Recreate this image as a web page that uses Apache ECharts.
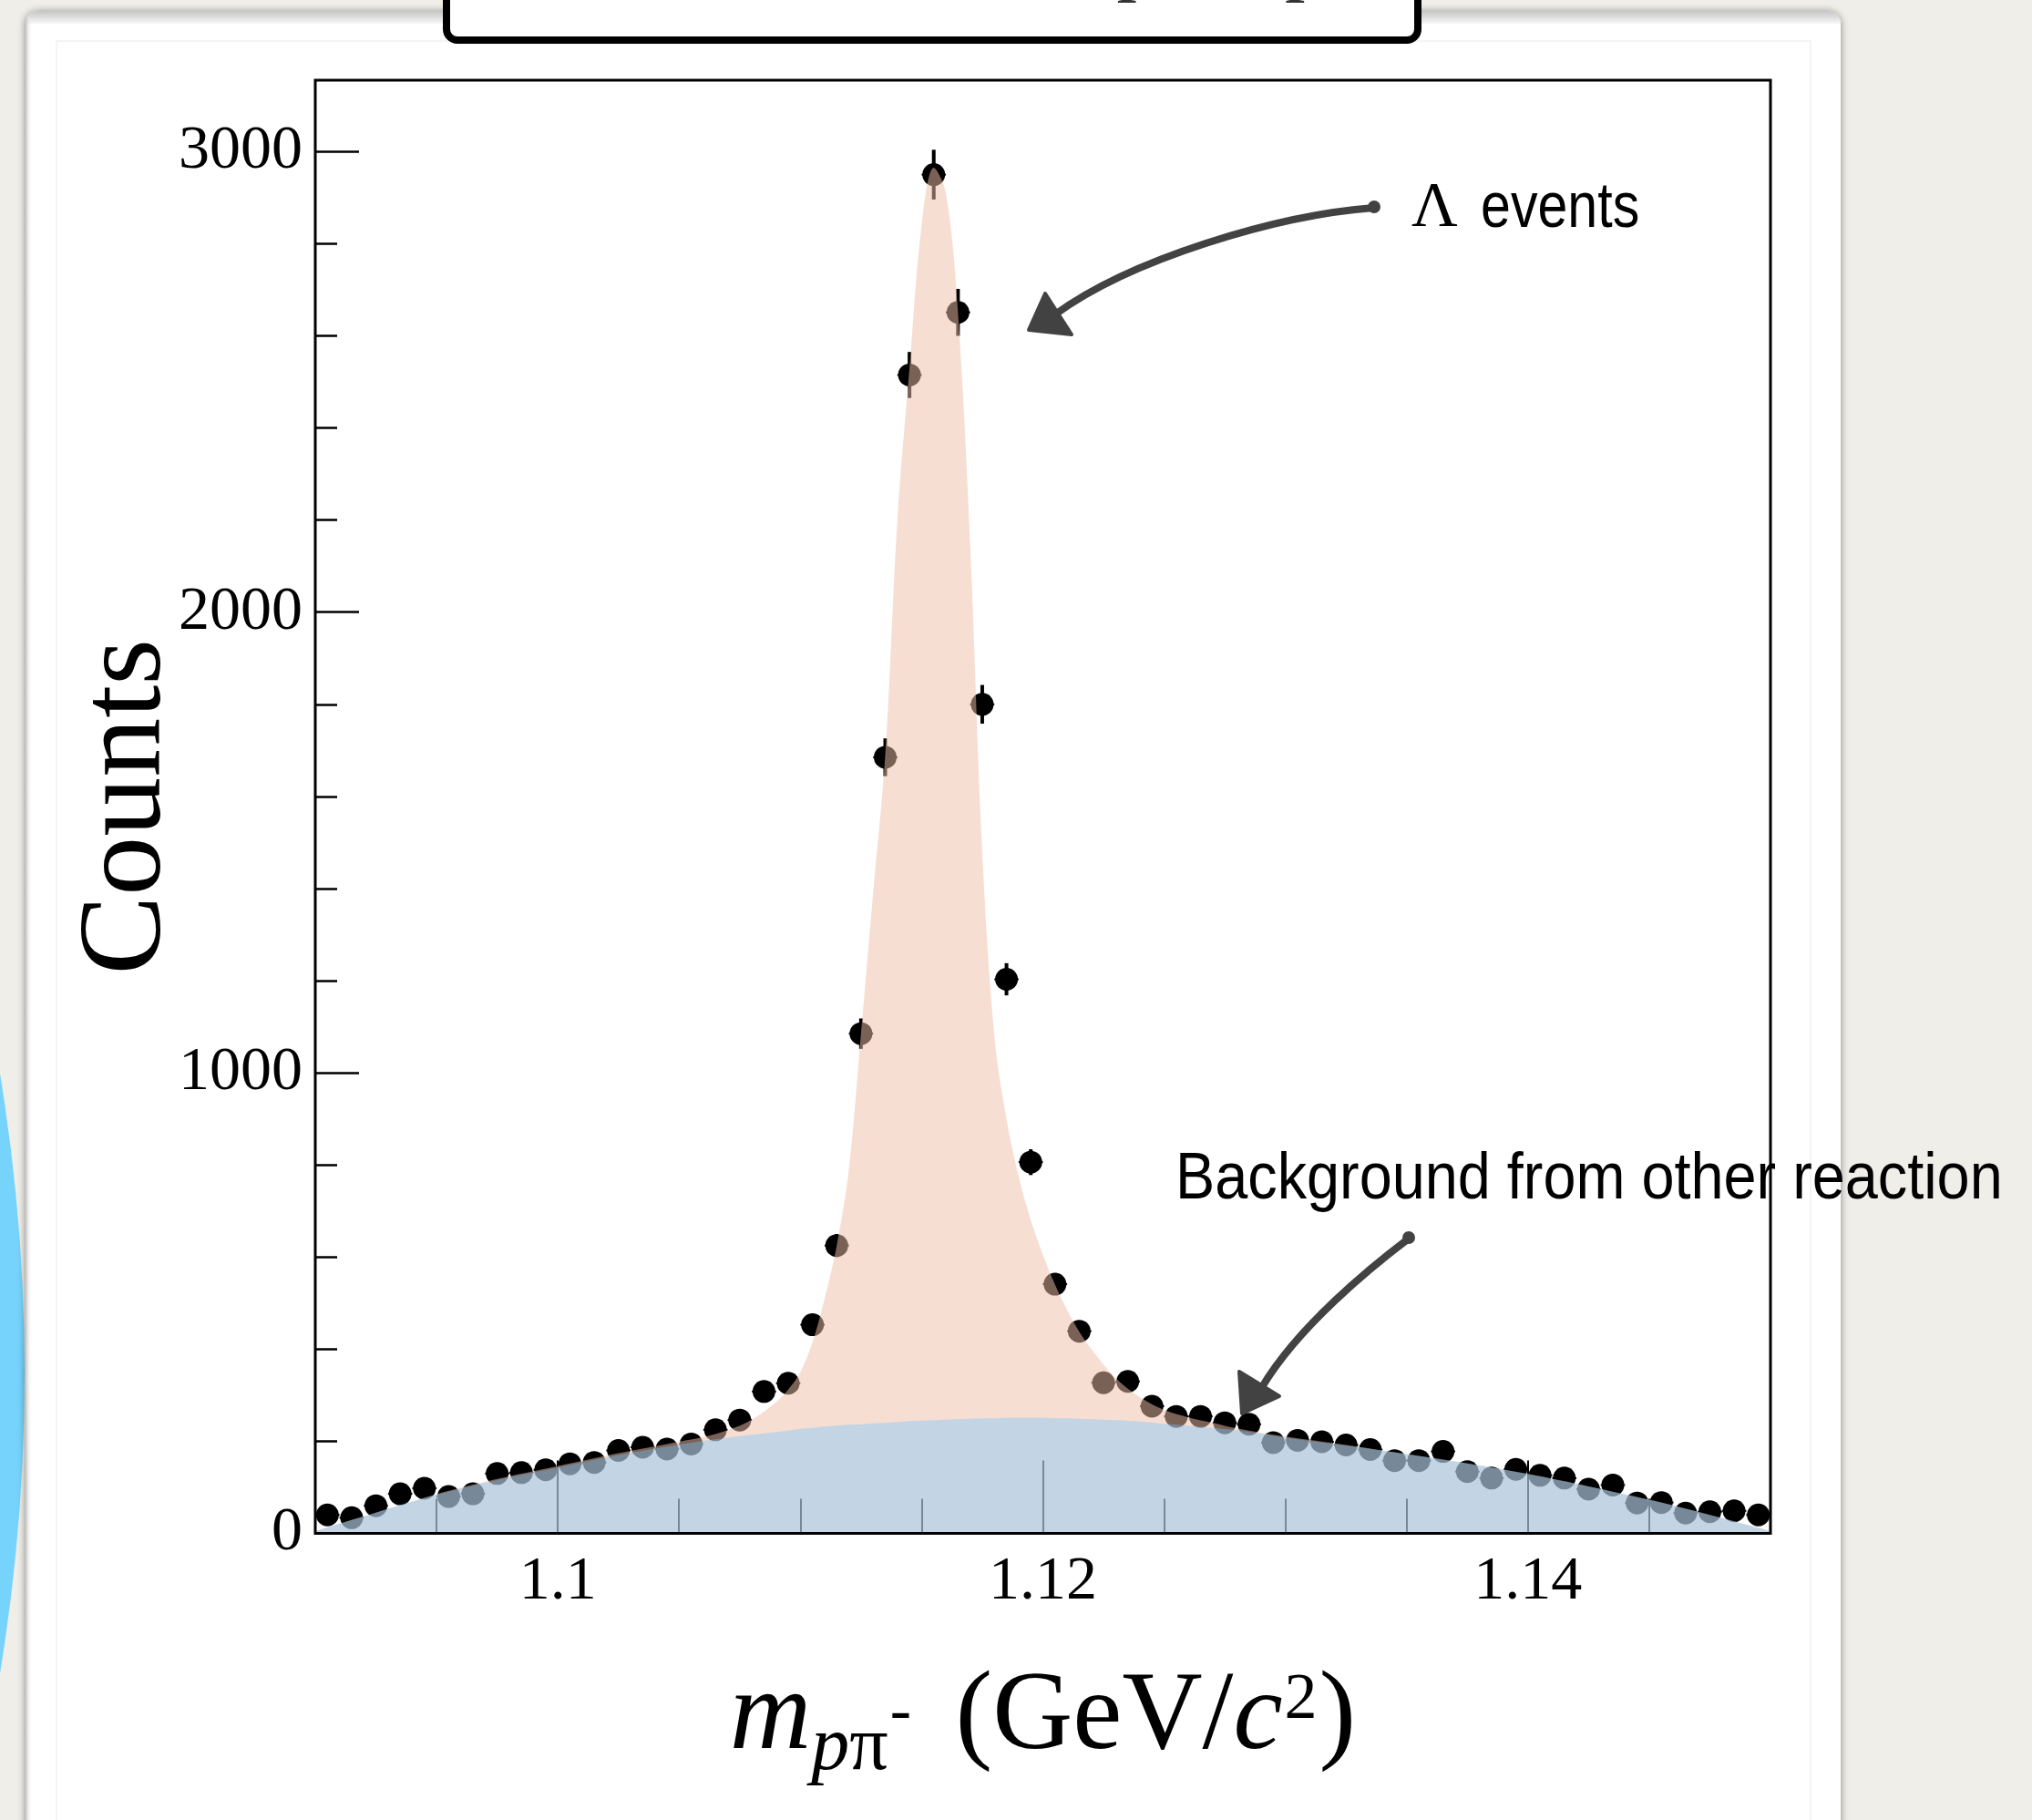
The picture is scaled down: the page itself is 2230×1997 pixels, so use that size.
<!DOCTYPE html>
<html>
<head>
<meta charset="utf-8">
<script src="https://cdn.jsdelivr.net/npm/echarts@6/dist/echarts.min.js"></script>
<style>
  html, body { margin: 0; padding: 0; background: #efeee8; }
  #c { width: 2230px; height: 1997px; }
</style>
</head>
<body>
<div id="c"></div>
<script>
// ---------- data ----------
const binCenters = [1.0905,1.0915,1.0925,1.0935,1.0945,1.0955,1.0965,1.0975,1.0985,1.0995,
  1.1005,1.1015,1.1025,1.1035,1.1045,1.1055,1.1065,1.1075,1.1085,1.1095,
  1.1105,1.1115,1.1125,1.1135,1.1145,1.1155,1.1165,1.1175,1.1185,1.1195,
  1.1205,1.1215,1.1225,1.1235,1.1245,1.1255,1.1265,1.1275,1.1285,1.1295,
  1.1305,1.1315,1.1325,1.1335,1.1345,1.1355,1.1365,1.1375,1.1385,1.1395,
  1.1405,1.1415,1.1425,1.1435,1.1445,1.1455,1.1465,1.1475,1.1485,1.1495];
const counts = [40,34,60,86,98,80,86,130,132,138,
  151,154,180,187,183,194,225,246,308,326,
  453,625,1085,1685,2515,2950,2651,1800,1203,806,
  541,439,327,330,276,254,254,240,237,197,
  202,199,192,182,158,158,178,134,120,139,
  126,120,96,105,66,67,44,47,49,40];
const countErrors = [6,6,8,9,10,9,9,11,11,12,
  12,12,13,14,14,14,15,16,18,18,
  21,25,33,41,50,54,51,42,35,28,
  23,21,18,18,17,16,16,15,15,14,
  14,14,14,13,13,13,13,12,11,12,
  11,11,10,10,8,8,7,7,7,6];
const binHalfWidth = 0.0005;

// fit curves
const curveX = [1.0900,1.0925,1.0950,1.0975,1.1000,1.1025,1.1050,1.1060,1.1070,1.1080,
  1.1090,1.1095,1.1100,1.1105,1.1110,1.1115,1.1120,1.1125,1.1130,1.1135,
  1.1140,1.1145,1.1150,1.1155,1.1160,1.1165,1.1170,1.1175,1.1180,1.1185,
  1.1190,1.1195,1.1200,1.1205,1.1210,1.1215,1.1220,1.1230,1.1240,1.1250,
  1.1260,1.1270,1.1280,1.1300,1.1325,1.1350,1.1375,1.1400,1.1425,1.1450,
  1.1475,1.1500];
const backgroundCurve = [5,45,84,116,143,170,193,201,208,214,
  220,223,227,229,232,234,236,237,239,240,
  242,244,245,246,247,248,249,250,250,251,
  251,251,251,250,250,249,248,246,243,238,
  234,229,224,208,191,172,152,129,102,73,
  40,5];
const totalCurve = [5,45,85,118,146,174,199,209,224,247,
  285,312,350,415,510,625,790,1085,1390,1690,
  2200,2530,2840,2965,2910,2650,2150,1480,1080,900,
  775,680,605,540,485,438,400,337,296,268,
  252,240,228,210,192,172,152,129,102,73,
  40,5];

// axes
const xMajorTicks = [1.10, 1.12, 1.14];
const xMajorLabels = ['1.1', '1.12', '1.14'];
const xMinorTicks = [1.095,1.105,1.11,1.115,1.125,1.13,1.135,1.145];
const yMajorTicks = [0, 1000, 2000, 3000];
const yMajorLabels = ['0', '1000', '2000', '3000'];
const yMinorTicks = [200,400,600,800,1200,1400,1600,1800,2200,2400,2600,2800];

// ---------- chart ----------
const chart = echarts.init(document.getElementById('c'), null, { renderer: 'canvas' });

const serif = '"Liberation Serif", "DejaVu Serif", serif';
const sans = '"Liberation Sans", Arial, sans-serif';
const arrowColor = '#424242';

function labelFor(values, labels, v) {
  for (let i = 0; i < values.length; i++) if (Math.abs(values[i] - v) < 1e-9) return labels[i];
  return '';
}

const option = {
  animation: false,
  backgroundColor: 'transparent',
  grid: {
    left: 346, top: 88, width: 1597, height: 1594.5,
    show: true, borderColor: '#000', borderWidth: 3, backgroundColor: 'transparent',
    z: 10, containLabel: false, outerBoundsMode: 'none'
  },
  xAxis: [
    {
      type: 'value', min: 1.09, max: 1.15,
      axisLine: { show: false }, splitLine: { show: false },
      axisTick: { show: true, inside: true, length: 80, customValues: xMajorTicks, lineStyle: { color: '#000', width: 2 } },
      axisLabel: { customValues: xMajorTicks, formatter: v => labelFor(xMajorTicks, xMajorLabels, v),
        margin: 20, fontSize: 68, fontFamily: serif, color: '#000' },
      name: '{m|m}{s|p}{sp|π}{h|-}{n| (GeV/}{c|c}{u|2}{e|)}',
      nameLocation: 'middle', nameGap: 128,
      nameTextStyle: {
        fontFamily: serif, color: '#000', fontSize: 122, lineHeight: 150,
        rich: {
          m: { fontFamily: serif, fontSize: 124, fontStyle: 'italic', lineHeight: 150, color: '#000' },
          n: { fontFamily: serif, fontSize: 122, lineHeight: 150, color: '#000', padding: [0, 0, 0, 18] },
          e: { fontFamily: serif, fontSize: 122, lineHeight: 150, color: '#000', padding: [0, 0, 0, 2] },
          c: { fontFamily: serif, fontSize: 122, fontStyle: 'italic', lineHeight: 150, color: '#000' },
          s: { fontFamily: serif, fontSize: 84, fontStyle: 'italic', lineHeight: 84, verticalAlign: 'bottom', color: '#000' },
          sp: { fontFamily: serif, fontSize: 84, lineHeight: 84, verticalAlign: 'bottom', color: '#000' },
          h: { fontFamily: serif, fontSize: 70, lineHeight: 112, verticalAlign: 'top', color: '#000', padding: [35, 0, 0, 2] },
          u: { fontFamily: serif, fontSize: 72, lineHeight: 100, verticalAlign: 'top', color: '#000', padding: [20, 0, 0, 2] }
        }
      }
    },
    {
      type: 'value', min: 1.09, max: 1.15, position: 'bottom',
      axisLine: { show: false }, splitLine: { show: false }, axisLabel: { show: false },
      axisTick: { show: true, inside: true, length: 38, customValues: xMinorTicks, lineStyle: { color: '#000', width: 2 } }
    }
  ],
  yAxis: [
    {
      type: 'value', min: 0, max: 3155,
      axisLine: { show: false }, splitLine: { show: false },
      axisTick: { show: true, inside: true, length: 48, customValues: yMajorTicks, lineStyle: { color: '#000', width: 2.5 } },
      axisLabel: { customValues: yMajorTicks, formatter: v => labelFor(yMajorTicks, yMajorLabels, v),
        margin: 14, fontSize: 68, fontFamily: serif, color: '#000' },
      name: 'Counts', nameLocation: 'middle', nameRotate: 90, nameGap: 140, nameMoveOverlap: false,
      nameTextStyle: { fontFamily: serif, fontSize: 130, color: '#000' }
    },
    {
      type: 'value', min: 0, max: 3155, position: 'left',
      axisLine: { show: false }, splitLine: { show: false }, axisLabel: { show: false },
      axisTick: { show: true, inside: true, length: 24, customValues: yMinorTicks, lineStyle: { color: '#000', width: 2.5 } }
    }
  ],
  series: [
    {
      type: 'custom', name: 'errors', z: 1, silent: true, clip: false,
      data: binCenters.map((x, i) => [x, counts[i], countErrors[i]]),
      encode: { x: 0, y: 1 },
      renderItem: function (params, api) {
        const x = api.value(0), y = api.value(1), e = api.value(2);
        const a = api.coord([x, y - e]), b = api.coord([x, y + e]);
        const l = api.coord([x - binHalfWidth, y]), r = api.coord([x + binHalfWidth, y]);
        return {
          type: 'group',
          children: [
            { type: 'line', shape: { x1: a[0], y1: a[1], x2: b[0], y2: b[1] }, style: { stroke: '#000', lineWidth: 4 } },
            { type: 'line', shape: { x1: l[0], y1: l[1], x2: r[0], y2: r[1] }, style: { stroke: '#000', lineWidth: 2 } }
          ]
        };
      }
    },
    {
      type: 'scatter', name: 'data', z: 1, silent: true,
      symbol: 'circle', symbolSize: 25,
      itemStyle: { color: '#000', opacity: 1 },
      data: binCenters.map((x, i) => [x, counts[i]])
    },
    {
      type: 'line', name: 'signal + background', z: 3, silent: true,
      smooth: 0.35, symbol: 'none', showSymbol: false,
      lineStyle: { width: 0, opacity: 0 },
      areaStyle: { color: 'rgba(239,190,169,0.51)', opacity: 1 },
      data: curveX.map((x, i) => [x, totalCurve[i]])
    },
    {
      type: 'line', name: 'background', z: 4, silent: true,
      smooth: 0.35, symbol: 'none', showSymbol: false,
      lineStyle: { width: 0, opacity: 0 },
      areaStyle: { color: 'rgba(114,198,255,0.392)', opacity: 1 },
      data: curveX.map((x, i) => [x, backgroundCurve[i]])
    }
  ],
  graphic: {
    elements: [
      // decorative slide elements
      { type: 'circle', z: -100, silent: true, shape: { cx: -1991, cy: 1507, r: 2018 }, style: { fill: '#76d4fc' } },
      { type: 'rect', z: -90, silent: true, shape: { x: 28, y: 12, width: 1992, height: 2100, r: 14 },
        style: { fill: '#ffffff', shadowBlur: 8, shadowColor: 'rgba(0,0,0,0.45)', shadowOffsetX: 0, shadowOffsetY: 1 } },
      { type: 'rect', z: -89, silent: true, shape: { x: 28, y: 12, width: 1992, height: 14, r: [14, 14, 0, 0] },
        style: { fill: new echarts.graphic.LinearGradient(0, 0, 0, 1, [{ offset: 0, color: '#c6c6c6' }, { offset: 1, color: '#f7f7f7' }]) } },
      { type: 'rect', z: -89, silent: true, shape: { x: 28, y: 20, width: 7, height: 2100 },
        style: { fill: new echarts.graphic.LinearGradient(0, 0, 1, 0, [{ offset: 0, color: '#c4c4c4' }, { offset: 1, color: 'rgba(255,255,255,0)' }]) } },
      { type: 'rect', z: -88, silent: true, shape: { x: 62, y: 45, width: 1925, height: 2100 },
        style: { fill: 'none', stroke: '#f1f1f1', lineWidth: 1.5 } },
      { type: 'rect', z: -80, silent: true, shape: { x: 490, y: -60, width: 1066, height: 104, r: 12 },
        style: { fill: '#ffffff', stroke: '#000', lineWidth: 8 } },
      { type: 'text', z: -79, silent: true, x: 1232, y: -40,
        style: { text: 'p', font: 'italic 90px ' + serif, fill: '#333', verticalAlign: 'middle' } },
      { type: 'text', z: -79, silent: true, x: 1410, y: -40,
        style: { text: 'p', font: '90px ' + serif, fill: '#333', verticalAlign: 'middle' } },

      // annotations
      { type: 'text', z: 100, silent: true, x: 1549, y: 230,
        style: { text: 'Λ', font: '70px ' + serif, fill: '#000', verticalAlign: 'middle' } },
      { type: 'text', z: 100, silent: true, x: 1625, y: 230, scaleX: 0.845,
        style: { text: 'events', font: '70px ' + sans, fill: '#000', verticalAlign: 'middle' } },
      { type: 'text', z: 100, silent: true, x: 1290, y: 1295, scaleX: 0.9,
        style: { text: 'Background from other reaction', font: '72px ' + sans, fill: '#000', verticalAlign: 'middle' } },

      { type: 'bezierCurve', z: 100, silent: true,
        shape: { x1: 1508, y1: 228, cpx1: 1400, cpy1: 236, cpx2: 1240, cpy2: 285, x2: 1158, y2: 345 },
        style: { stroke: arrowColor, lineWidth: 8, fill: null, lineCap: 'round' } },
      { type: 'circle', z: 100, silent: true, shape: { cx: 1508, cy: 227, r: 7 }, style: { fill: arrowColor } },
      { type: 'polygon', z: 100, silent: true, shape: { points: [[1129, 362], [1147, 322], [1176, 367]] },
        style: { fill: arrowColor, stroke: arrowColor, lineWidth: 4, lineJoin: 'round' } },

      { type: 'bezierCurve', z: 100, silent: true,
        shape: { x1: 1546, y1: 1359, cpx1: 1505, cpy1: 1390, cpx2: 1425, cpy2: 1455, x2: 1385, y2: 1522 },
        style: { stroke: arrowColor, lineWidth: 8, fill: null, lineCap: 'round' } },
      { type: 'circle', z: 100, silent: true, shape: { cx: 1546, cy: 1358, r: 7 }, style: { fill: arrowColor } },
      { type: 'polygon', z: 100, silent: true, shape: { points: [[1360, 1505], [1404, 1532], [1363, 1551]] },
        style: { fill: arrowColor, stroke: arrowColor, lineWidth: 4, lineJoin: 'round' } }
    ]
  }
};

chart.setOption(option);
</script>
</body>
</html>
